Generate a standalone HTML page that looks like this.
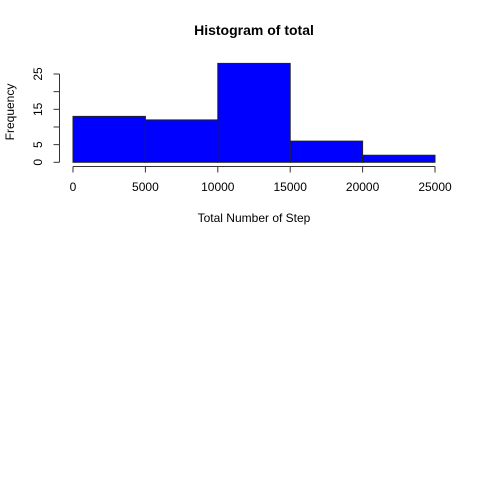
<!DOCTYPE html>
<html><head><meta charset="utf-8"><style>body{margin:0;background:#fff}svg{display:block;font-family:"Liberation Sans",Arial,sans-serif}</style></head>
<body>
<svg id="chart" width="480" height="480">
<text x="254" y="35" text-anchor="middle" font-weight="bold" font-size="14">Histogram of total</text>
<text x="254" y="222" text-anchor="middle" font-size="12">Total Number of Step</text>
<text transform="translate(14,112) rotate(-90)" text-anchor="middle" font-size="12">Frequency</text>
<g id="bars"></g><g id="xaxis"></g><g id="yaxis"></g>
</svg>
<script>
const binEdges=[0,5000,10000,15000,20000,25000];
const counts=[13,12,28,6,2];
const xTicks=[0,5000,10000,15000,20000,25000];
const yTicks=[0,5,10,15,20,25];
const yLabelTicks=[0,5,15,25];
function xs(v){return 73+v/25000*362;}
function ys(v){return 162.3-v*3.532;}
const NS="http://www.w3.org/2000/svg";
function mk(t,a,p){const e=document.createElementNS(NS,t);for(const k in a)e.setAttribute(k,a[k]);p.appendChild(e);return e;}
const bars=document.getElementById('bars');
counts.forEach((c,i)=>{
 const r=mk('rect',{x:xs(binEdges[i]),y:ys(c),width:xs(binEdges[i+1])-xs(binEdges[i]),height:ys(0)-ys(c),fill:'#0000ff',stroke:'#222','stroke-width':1},bars);
 
 
});
const xa=document.getElementById('xaxis');
mk('line',{x1:xs(0),x2:xs(25000),y1:166.5,y2:166.5,stroke:'#333'},xa);
xTicks.forEach(t=>{
 mk('line',{x1:xs(t),x2:xs(t),y1:166.5,y2:172.5,stroke:'#333'},xa);
 const tx=mk('text',{x:xs(t),y:191,'text-anchor':'middle','font-size':12},xa);
 tx.textContent=t;
 
 
});
const ya=document.getElementById('yaxis');
mk('line',{x1:59.5,x2:59.5,y1:ys(0),y2:ys(25),stroke:'#333'},ya);
yTicks.forEach(t=>{
 mk('line',{x1:53.5,x2:59.5,y1:ys(t),y2:ys(t),stroke:'#333'},ya);
});
yLabelTicks.forEach(t=>{
 const tx=mk('text',{transform:'translate(42,'+ys(t)+') rotate(-90)','text-anchor':'middle','font-size':12},ya);
 tx.textContent=t;
 
 
});
</script>
</body></html>
